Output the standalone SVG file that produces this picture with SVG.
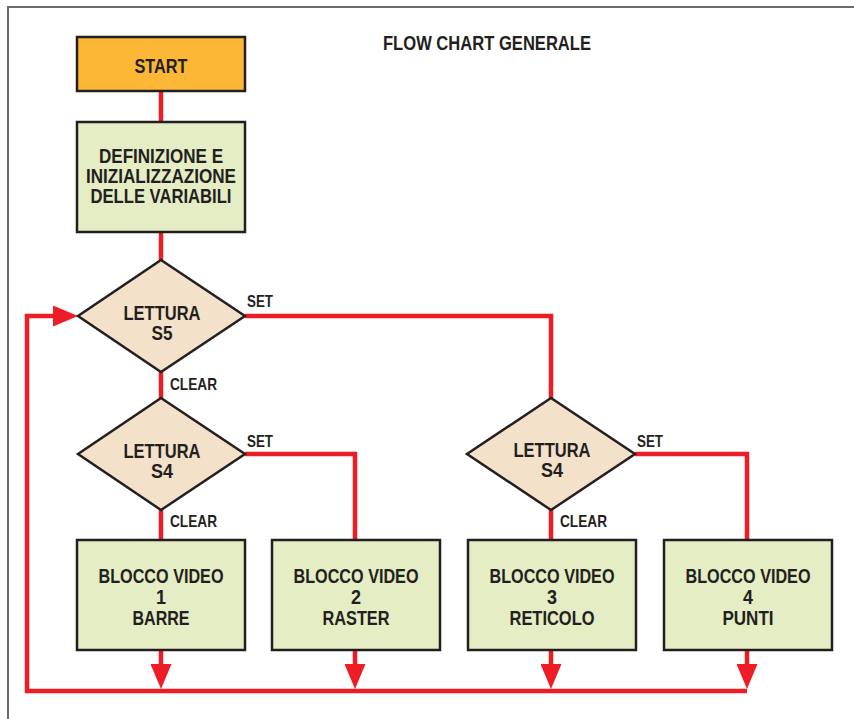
<svg xmlns="http://www.w3.org/2000/svg" width="854" height="719" viewBox="0 0 854 719">
<defs>
<style>
.frame{fill:none;stroke:#6b6b6b;stroke-width:2}
.box{stroke:#231f20;stroke-width:2.5}
.start{fill:#fbb735}
.proc{fill:#e4edc3}
.dec{fill:#f3e1c9}
.t{font-family:"Liberation Sans",Arial,sans-serif;font-weight:bold;fill:#231f20;text-anchor:middle;font-size:21px}
.ttl{font-family:"Liberation Sans",Arial,sans-serif;font-weight:bold;fill:#231f20;font-size:20px}
.lbl{font-family:"Liberation Sans",Arial,sans-serif;font-weight:bold;fill:#231f20;font-size:16.5px}
.c{fill:none;stroke:#ee1c25;stroke-width:4.5}
</style>
<marker id="ah" viewBox="0 0 25 21" refX="17" refY="10.5" markerWidth="25" markerHeight="21" markerUnits="userSpaceOnUse" orient="auto">
<path d="M0,0 L25,10.5 L0,21 Z" fill="#ee1c25"/>
</marker>
</defs>
<rect width="854" height="719" fill="#ffffff"/>
<path class="frame" d="M8,719 V7 H854"/>
<text class="ttl" x="383" y="50" textLength="208" lengthAdjust="spacingAndGlyphs">FLOW CHART GENERALE</text>

<g id="connectors">
<path class="c" d="M161,91 V122"/>
<path class="c" d="M161,232 V260"/>
<path class="c" d="M161,372 V398"/>
<path class="c" d="M245,316 H551 V398"/>
<path class="c" d="M161,510 V540"/>
<path class="c" d="M245,454 H355 V540"/>
<path class="c" d="M551,510 V540"/>
<path class="c" d="M635,454 H747 V540"/>
<path class="c" d="M161,650 V681" marker-end="url(#ah)"/>
<path class="c" d="M355,650 V681" marker-end="url(#ah)"/>
<path class="c" d="M551,650 V681" marker-end="url(#ah)"/>
<path class="c" d="M747,650 V681" marker-end="url(#ah)"/>
<path class="c" d="M747,691 H27 V316 H70" marker-end="url(#ah)"/>
<text class="lbl" x="247" y="307" textLength="26" lengthAdjust="spacingAndGlyphs">SET</text>
<text class="lbl" x="170" y="390" textLength="47" lengthAdjust="spacingAndGlyphs">CLEAR</text>
<text class="lbl" x="247" y="447" textLength="26" lengthAdjust="spacingAndGlyphs">SET</text>
<text class="lbl" x="170" y="527" textLength="47" lengthAdjust="spacingAndGlyphs">CLEAR</text>
<text class="lbl" x="637" y="447" textLength="26" lengthAdjust="spacingAndGlyphs">SET</text>
<text class="lbl" x="560" y="527" textLength="47" lengthAdjust="spacingAndGlyphs">CLEAR</text>
</g>

<g id="start">
<rect class="box start" x="77" y="37" width="168" height="54"/>
<text class="t" x="161" y="73" textLength="53" lengthAdjust="spacingAndGlyphs">START</text>
</g>
<g id="init">
<rect class="box proc" x="77" y="122" width="168" height="110"/>
<text class="t" x="161" y="163" textLength="124" lengthAdjust="spacingAndGlyphs">DEFINIZIONE E</text>
<text class="t" x="161" y="183" textLength="150" lengthAdjust="spacingAndGlyphs">INIZIALIZZAZIONE</text>
<text class="t" x="161" y="203" textLength="141" lengthAdjust="spacingAndGlyphs">DELLE VARIABILI</text>
</g>
<g id="s5">
<polygon class="box dec" points="161,260 245,316 161,372 78,316"/>
<text class="t" x="162" y="320" textLength="77" lengthAdjust="spacingAndGlyphs">LETTURA</text>
<text class="t" x="162" y="340" textLength="21" lengthAdjust="spacingAndGlyphs">S5</text>
</g>
<g id="s4a">
<polygon class="box dec" points="161,398 245,454 161,510 78,454"/>
<text class="t" x="162" y="458" textLength="77" lengthAdjust="spacingAndGlyphs">LETTURA</text>
<text class="t" x="162" y="478" textLength="22" lengthAdjust="spacingAndGlyphs">S4</text>
</g>
<g id="s4b">
<polygon class="box dec" points="551,398 635,454 551,510 467,454"/>
<text class="t" x="552" y="457" textLength="77" lengthAdjust="spacingAndGlyphs">LETTURA</text>
<text class="t" x="552" y="477" textLength="22" lengthAdjust="spacingAndGlyphs">S4</text>
</g>
<g id="v1">
<rect class="box proc" x="77" y="540" width="168" height="110"/>
<text class="t" x="161" y="583" textLength="125" lengthAdjust="spacingAndGlyphs">BLOCCO VIDEO</text>
<text class="t" x="161" y="604" textLength="10" lengthAdjust="spacingAndGlyphs">1</text>
<text class="t" x="161" y="625" textLength="57" lengthAdjust="spacingAndGlyphs">BARRE</text>
</g>
<g id="v2">
<rect class="box proc" x="272" y="540" width="168" height="110"/>
<text class="t" x="356" y="583" textLength="125" lengthAdjust="spacingAndGlyphs">BLOCCO VIDEO</text>
<text class="t" x="356" y="604" textLength="10" lengthAdjust="spacingAndGlyphs">2</text>
<text class="t" x="356" y="625" textLength="67" lengthAdjust="spacingAndGlyphs">RASTER</text>
</g>
<g id="v3">
<rect class="box proc" x="468" y="540" width="168" height="110"/>
<text class="t" x="552" y="583" textLength="125" lengthAdjust="spacingAndGlyphs">BLOCCO VIDEO</text>
<text class="t" x="552" y="604" textLength="10" lengthAdjust="spacingAndGlyphs">3</text>
<text class="t" x="552" y="625" textLength="85" lengthAdjust="spacingAndGlyphs">RETICOLO</text>
</g>
<g id="v4">
<rect class="box proc" x="664" y="540" width="168" height="110"/>
<text class="t" x="748" y="583" textLength="125" lengthAdjust="spacingAndGlyphs">BLOCCO VIDEO</text>
<text class="t" x="748" y="604" textLength="10" lengthAdjust="spacingAndGlyphs">4</text>
<text class="t" x="748" y="625" textLength="51" lengthAdjust="spacingAndGlyphs">PUNTI</text>
</g>
</svg>
